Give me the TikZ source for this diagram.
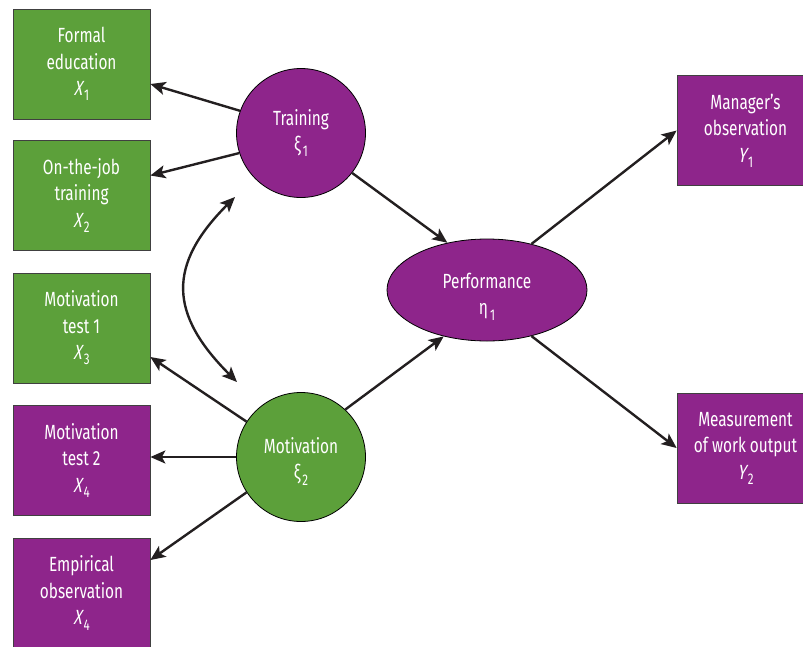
\documentclass[tikz,border=0pt]{standalone}
\usepackage{fontspec}
\setmainfont{Fira Sans}[FakeStretch=0.75]
\newfontfamily\itfam{Fira Sans}[FakeStretch=0.75, FakeSlant=0.2]
\usetikzlibrary{arrows.meta,shapes.geometric}
\definecolor{sgreen}{HTML}{5CA03A}
\definecolor{spurple}{HTML}{8E258B}
\definecolor{arrcol}{HTML}{231F20}
\newcommand{\sbs}[1]{\kern2pt\raisebox{-0.25em}{\fontsize{15.5}{15.5}\selectfont #1}}
\newcommand{\iv}[2]{{\itfam #1}\sbs{#2}}
\tikzset{
  txt/.style={text=white, align=center, font=\fontsize{20.5}{26.5}\selectfont, inner sep=0pt},
  obsbox/.style={txt, rectangle, draw=black!75, line width=0.7pt, minimum width=137pt, minimum height=110pt},
  latcirc/.style={txt, circle, draw=black, line width=0.8pt, minimum size=129pt},
  latell/.style={txt, ellipse, draw=black, line width=0.8pt, minimum width=200pt, minimum height=102pt},
  arr/.style={draw=arrcol, line width=2.4pt, -{Stealth[length=15pt,width=13pt,inset=3.5pt]}},
  darr/.style={draw=arrcol, line width=2.4pt, {Stealth[length=15pt,width=13pt,inset=3.5pt]}-{Stealth[length=15pt,width=13pt,inset=3.5pt]}}
}
\begin{document}
\begin{tikzpicture}[x=1pt,y=-1pt]
\useasboundingbox (0,0) rectangle (803,646);
\node[obsbox, fill=sgreen] (x1) at (81.5,64) {Formal\\education\\\iv{X}{1}};
\node[obsbox, fill=sgreen] (x2) at (81.5,195.5) {On-the-job\\training\\\iv{X}{2}};
\node[obsbox, fill=sgreen] (x3) at (81.5,328) {Motivation\\test 1\\\iv{X}{3}};
\node[obsbox, fill=spurple] (x4) at (81.5,460.5) {Motivation\\test 2\\\iv{X}{4}};
\node[obsbox, fill=spurple] (x5) at (81.5,593) {Empirical\\observation\\\iv{X}{4}};
\node[obsbox, fill=spurple] (y1) at (745.5,130.5) {Manager’s\\observation\\\iv{Y}{1}};
\node[obsbox, fill=spurple] (y2) at (745.5,448) {Measurement\\of work output\\\iv{Y}{2}};
\node[latcirc, fill=spurple] (train) at (301,133) {Training\\ξ\sbs{1}};
\node[latcirc, fill=sgreen, text height=51pt] (mot) at (301,457) {Motivation\\ξ\sbs{2}};
\node[latell, fill=spurple, text height=55pt] (perf) at (487,290) {Performance\\η\sbs{1}};
% connectors
\draw[arr] (train.160) -- ([yshift=-20pt]x1.east);
\draw[arr] (train.198) -- ([yshift=20pt]x2.east);
\draw[arr] (train.322) -- (perf.130);
\draw[arr] (mot.147) -- ([yshift=-29pt]x3.east);
\draw[arr] (mot.180) -- (mot.180 -| x4.east);
\draw[arr] (mot.213) -- ([yshift=33pt]x5.east);
\draw[arr] (mot.47) -- (perf.227);
\draw[arr] (perf.46) -- (y1.west);
\draw[arr] (perf.314) -- (y2.west);
\coordinate (cb) at (237,382);
\coordinate (ct) at (235,197);
\draw[darr] (cb) .. controls (169,314) and (167,265) .. (ct);
\end{tikzpicture}
\end{document}
